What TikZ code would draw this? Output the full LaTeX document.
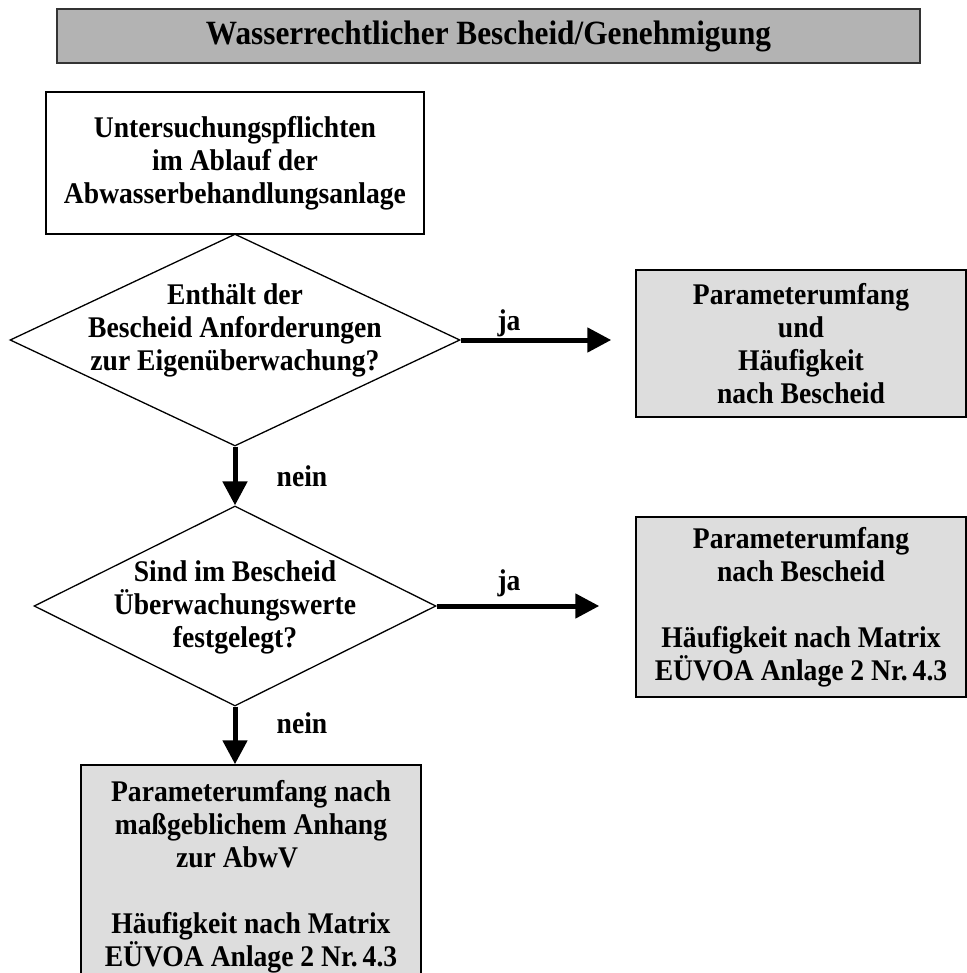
\documentclass[tikz,border=0pt]{standalone}
\usepackage{fontspec}
\setmainfont[FakeStretch=0.92]{Liberation Serif}
\usetikzlibrary{shapes.geometric,arrows.meta}
\definecolor{headgray}{HTML}{B3B3B3}
\definecolor{boxgray}{HTML}{DDDDDD}
\tikzset{
    label text/.style={% bold serif text only
        font=\bfseries\fontsize{30}{33}\selectfont, align=center},
    box/.style args={#1 by #2}{% drawn rectangle with measurements
        label text, draw, line width=1.5pt, rectangle, inner sep=0pt,
        minimum width=#1, minimum height=#2},
    grey box/.style={% shaded result box
        box=#1, fill=boxgray},
    decision/.style args={#1 by #2}{% empty diamond, text goes on top
        draw, diamond, line width=1.3pt, inner sep=0pt,
        minimum width=#1, minimum height=#2},
    flow/.style={% thick arrow
        line width=5pt, -{Triangle[length=24pt,width=24pt]}}}

\begin{document}
\begin{tikzpicture}[x=1pt,y=-1pt]
\useasboundingbox (0,0) rectangle (966,973);
\node[box=863pt by 54pt, fill=headgray, draw=black!80, line width=2.2pt,
      font=\bfseries\fontsize{34}{38}\selectfont] at (488.5,36) (header) {Wasserrechtlicher Bescheid/Genehmigung};
\node[box=378pt by 142pt] at (235,163) (duty) {Untersuchungspflichten\\im Ablauf der\\Abwasserbehandlungsanlage};
% first question
\node[decision=450pt by 212pt] at (235,340) (query1) {};
\node[label text] at (235,330) (query1 text) {Enthält der\\Bescheid Anforderungen\\zur Eigenüberwachung?};
\node[grey box=330pt by 147pt] at (801,343.5) (byorder) {Parameterumfang\\und\\Häufigkeit\\nach Bescheid};
% second question
\node[decision=402pt by 200pt] at (235,606) (query2) {};
\node[label text] at (235,607) (query2 text) {Sind im Bescheid\\Überwachungswerte\\festgelegt?};
\node[grey box=330pt by 180pt] at (801,607) (bymatrix) {Parameterumfang\\nach Bescheid\\[33pt]Häufigkeit nach Matrix\\EÜVOA Anlage 2 Nr.\,4.3};
\node[grey box=340pt by 224pt] at (251,877) (byannex) {Parameterumfang nach\\maßgeblichem Anhang\\zur AbwV\rule{28pt}{0pt}\\[33pt]Häufigkeit nach Matrix\\EÜVOA Anlage 2 Nr.\,4.3};
% answers
\node[label text] at (509,323) (yes1) {ja};
\node[label text] at (509,583) (yes2) {ja};
\node[label text] at (302,476) (no1) {nein};
\node[label text] at (302,723) (no2) {nein};
\draw[flow, shorten >=24pt] (query1.east) -- (query1.east -| byorder.west);
\draw[flow, shorten >=36pt] (query2.east) -- (query2.east -| bymatrix.west);
\draw[flow] (query1.south) -- (query2.north);
\draw[flow] (query2.south) -- (query2.south |- byannex.north);
\end{tikzpicture}
\end{document}
